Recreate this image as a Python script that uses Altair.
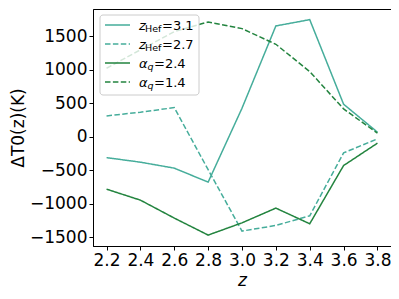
import altair as alt
import pandas as pd

z_vals = [2.2, 2.4, 2.6, 2.8, 3.0, 3.2, 3.4, 3.6, 3.8]
zhef_31 = [-310, -378, -467, -676, 428, 1657, 1751, 488, 70]
zhef_27 = [313, 368, 437, -490, -1407, -1323, -1179, -239, -30]
alpha_24 = [-781, -945, -1213, -1467, -1284, -1064, -1298, -428, -94]
alpha_14 = [1025, 1300, 1572, 1716, 1617, 1383, 975, 418, 55]
y_ticks = [-1500, -1000, -500, 0, 500, 1000, 1500]

series_names = ["zHef=3.1", "zHef=2.7", "aq=2.4", "aq=1.4"]
series_vals = [zhef_31, zhef_27, alpha_24, alpha_14]
teal = "#46ad9b"
green = "#23843f"
series_colors = [teal, teal, green, green]
solid = [1, 0]
dashed = [5.5, 2.4]
series_dash = [solid, dashed, solid, dashed]

# legend text pieces: (main symbol, subscript, rest)
leg_main = ["z", "z", "α", "α"]
leg_sub = ["Hef", "Hef", "q", "q"]
leg_rest = ["=3.1", "=2.7", "=2.4", "=1.4"]

rows = []
for name, vals in zip(series_names, series_vals):
    for i, (z, v) in enumerate(zip(z_vals, vals)):
        rows.append({"z": z, "v": v, "series": name, "i": i})
df = pd.DataFrame(rows)

W, H = 298, 237

lines = alt.Chart(df).mark_line(strokeWidth=1.5).encode(
    x=alt.X("z:Q", scale=alt.Scale(domain=[2.12, 3.88], nice=False, zero=False),
            axis=alt.Axis(values=z_vals, format=".1f", title="z", titleFontStyle="italic",
                          titleY=39, titleBaseline="alphabetic")),
    y=alt.Y("v:Q", scale=alt.Scale(domain=[-1630, 1910], nice=False, zero=False),
            axis=alt.Axis(values=y_ticks, format="d", title="ΔT0(z)(K)",
                          titleX=-70, titleY=H / 2, titleAngle=-90, titleAlign="center",
                          titleBaseline="alphabetic")),
    color=alt.Color("series:N", scale=alt.Scale(domain=series_names, range=series_colors), legend=None),
    strokeDash=alt.StrokeDash("series:N", scale=alt.Scale(domain=series_names, range=series_dash), legend=None),
    order="i:Q",
)

layers = [lines]

first = "datum.i == 0 && datum.series == 'zHef=3.1'"

# legend box
layers.append(
    alt.Chart(df).mark_rect(fill="white", fillOpacity=0.8, stroke="#cccccc", strokeWidth=1, cornerRadius=3).encode(
        x=alt.value(7), x2=alt.value(106), y=alt.value(6), y2=alt.value(86)
    ).transform_filter(first)
)

row_y = [16, 35, 54, 73]
for k in range(4):
    base = alt.Chart(df).transform_filter(first)
    layers.append(
        base.mark_rule(color=series_colors[k], strokeWidth=1.5, strokeDash=series_dash[k]).encode(
            x=alt.value(12), x2=alt.value(37), y=alt.value(row_y[k])
        )
    )
    layers.append(
        base.mark_text(text=leg_main[k], font="DejaVu Sans", fontSize=13, fontStyle="italic",
                       align="left", baseline="alphabetic", color="black").encode(
            x=alt.value(46), y=alt.value(row_y[k] + 4.5)
        )
    )
    is_z = leg_main[k] == "z"
    layers.append(
        base.mark_text(text=leg_sub[k], font="DejaVu Sans", fontSize=9.5,
                       fontStyle="normal" if is_z else "italic",
                       align="left", baseline="alphabetic", color="black").encode(
            x=alt.value(52 if is_z else 54.5), y=alt.value(row_y[k] + 7)
        )
    )
    layers.append(
        base.mark_text(text=leg_rest[k], font="DejaVu Sans", fontSize=13,
                       align="left", baseline="alphabetic", color="black").encode(
            x=alt.value(69 if is_z else 61), y=alt.value(row_y[k] + 4.5)
        )
    )

chart = alt.layer(*layers).properties(
    width=W, height=H,
    autosize=alt.AutoSizeParams(type="none"),
    padding={"left": 85, "top": 1, "right": 0, "bottom": 45},
).configure_view(stroke="black", strokeWidth=1).configure_axis(
    grid=False, domainColor="black", tickColor="black", tickSize=4, labelPadding=2,
    labelFont="DejaVu Sans", labelFontSize=17, labelColor="black",
    titleFont="DejaVu Sans", titleFontSize=17, titleColor="black", titleFontWeight="normal",
    domainWidth=1, tickWidth=1,
)

chart.save("out.html", embed_options={"renderer": "svg", "actions": False})
